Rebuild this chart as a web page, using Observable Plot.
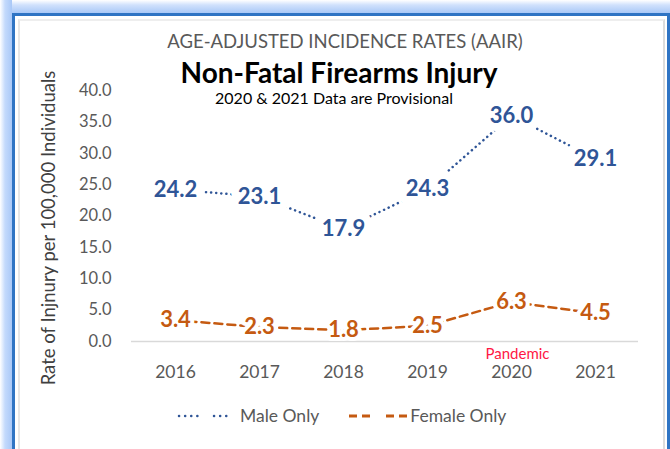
<!DOCTYPE html>
<html>
<head>
<meta charset="utf-8">
<script src="https://cdn.jsdelivr.net/npm/d3@7"></script>
<script src="https://cdn.jsdelivr.net/npm/@observablehq/plot@0.6"></script>
<style>
  html, body { margin: 0; padding: 0; background: #fff; }
  #page { position: relative; width: 670px; height: 449px; overflow: hidden;
    background: #fff; font-family: Lato, sans-serif; }
  #glowL { position: absolute; left: 0; top: 0; width: 12px; height: 449px;
    background: linear-gradient(to right, #ffffff 0px, #c4dafc 5px, #a9c8f7 12px); }
  #glowT { position: absolute; left: 0; top: 0; width: 670px; height: 13px;
    background: linear-gradient(to bottom, #ffffff 0px, #d0e1fc 5px, #a9c8f7 13px); }
  #frame { position: absolute; left: 12px; top: 13px; width: 652px; height: 440px;
    border: 3px solid #2f74c4; background: #fff; }
  #inner { position: absolute; left: 18px; top: 19px; width: 643px; height: 440px;
    border-left: 2px solid #e6e6e6; border-right: 2px solid #dcdcdc; border-top: 2px solid #eeeeee; }
  #chart { position: absolute; left: 0; top: 0; }
  .t { position: absolute; left: 0; width: 670px; text-align: center; white-space: nowrap; }
  #t1 { top: 30px; left: 10px; font-size: 18.5px; color: #595959; }
  #t2 { top: 55px; left: 4px; font-size: 28px; font-weight: bold; color: #000; }
  #t3 { top: 88px; left: -1px; font-size: 16px; color: #000; }
  #legend { position: absolute; top: 405px; left: 176px; font-size: 17.5px; color: #595959; display: flex; align-items: center; }
  #legend svg { display: block; }
</style>
</head>
<body>
<div id="page">
  <div id="glowT"></div>
  <div id="glowL"></div>
  <div id="frame"></div>
  <div id="inner"></div>
  <div class="t" id="t1">AGE-ADJUSTED INCIDENCE RATES (AAIR)</div>
  <div class="t" id="t2">Non-Fatal Firearms Injury</div>
  <div class="t" id="t3">2020 &amp; 2021 Data are Provisional</div>
  <div id="chart"></div>
  <div id="legend">
    <svg width="58" height="12">
      <line x1="3" y1="6" x2="24" y2="6" stroke="#2f5597" stroke-width="2.5" stroke-linecap="round" stroke-dasharray="0.1 6"/>
      <line x1="38" y1="6" x2="56" y2="6" stroke="#2f5597" stroke-width="2.5" stroke-linecap="round" stroke-dasharray="0.1 6"/>
    </svg>
    <span style="margin-left:6px;">Male Only</span>
    <svg width="62" height="12" style="margin-left:28px;">
      <line x1="2" y1="6" x2="23" y2="6" stroke="#c55a11" stroke-width="3" stroke-dasharray="8 5"/>
      <line x1="39" y1="6" x2="60" y2="6" stroke="#c55a11" stroke-width="3" stroke-dasharray="8 5"/>
    </svg>
    <span style="margin-left:1px;">Female Only</span>
  </div>
</div>
<script>
const years = ["2016", "2017", "2018", "2019", "2020", "2021"];
const maleValues = [24.2, 23.1, 17.9, 24.3, 36.0, 29.1];
const femaleValues = [3.4, 2.3, 1.8, 2.5, 6.3, 4.5];
const yTicks = [0, 5, 10, 15, 20, 25, 30, 35, 40];
const annotationYear = "2020";
const annotationText = "Pandemic";
const yLabel = "Rate of Injnury per 100,000 Individuals";

const male = years.map((y, i) => ({year: y, value: maleValues[i]}));
const female = years.map((y, i) => ({year: y, value: femaleValues[i]}));

const chart = Plot.plot({
  width: 670,
  height: 449,
  marginLeft: 131,
  marginRight: 32,
  marginTop: 90,
  marginBottom: 108,
  style: {background: "transparent", fontFamily: "Lato, sans-serif", overflow: "visible"},
  x: {type: "point", domain: years, padding: 0.5, label: null},
  y: {domain: [0, 40], label: null},
  marks: [
    Plot.ruleY([0], {stroke: "#d9d9d9", strokeWidth: 1.5}),
    Plot.axisX({ticks: years, tickSize: 0, tickPadding: 24, fontSize: 17.5, fill: "#595959", color: "#595959"}),
    Plot.axisY({ticks: yTicks, tickSize: 0, tickPadding: 20, tickFormat: d => d.toFixed(1), fontSize: 16.5, color: "#595959", label: null}),
    Plot.text([yLabel], {frameAnchor: "left", textAnchor: "middle", dx: -82, dy: 12, rotate: -90, fontSize: 18.5, fill: "#404040"}),
    Plot.line(male, {x: "year", y: "value", stroke: "#2f5597", strokeWidth: 2.5, strokeDasharray: "0.1 5", strokeLinecap: "round"}),
    Plot.line(female, {x: "year", y: "value", stroke: "#c55a11", strokeWidth: 2.5, strokeDasharray: "8 5"}),
    Plot.text(male, {x: "year", y: "value", text: d => d.value.toFixed(1), fontSize: 22, fontWeight: "bold", fill: "#2f5597", stroke: "white", strokeWidth: 16, paintOrder: "stroke"}),
    Plot.text(female, {x: "year", y: "value", text: d => d.value.toFixed(1), fontSize: 22, fontWeight: "bold", fill: "#c55a11", stroke: "white", strokeWidth: 8, paintOrder: "stroke"}),
    Plot.text([annotationText], {x: () => annotationYear, y: () => 0, dx: 6, dy: 13, fontSize: 15, fill: "#ff1744"})
  ]
});
document.getElementById("chart").appendChild(chart);
</script>
</body>
</html>
